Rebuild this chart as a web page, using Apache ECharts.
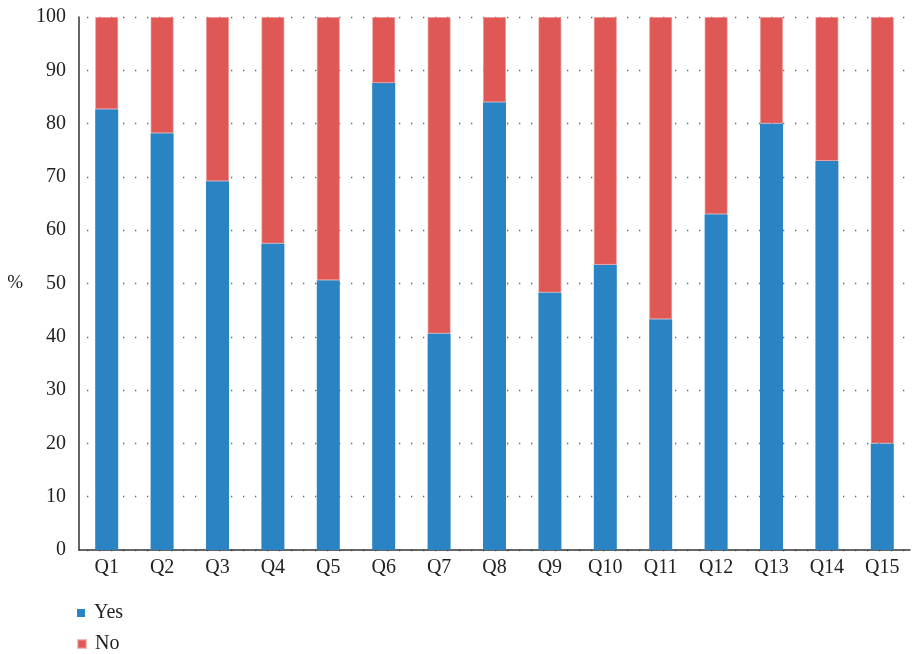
<!DOCTYPE html>
<html>
<head>
<meta charset="utf-8">
<script src="https://cdn.jsdelivr.net/npm/echarts@6/dist/echarts.min.js"></script>
<style>
  html, body { margin: 0; padding: 0; background: #fff; }
  #chart { width: 918px; height: 654px; }
</style>
</head>
<body>
<div id="chart"></div>
<script>
// Share of "Yes" answers per question (percent); "No" is the remainder.
const questions = ['Q1', 'Q2', 'Q3', 'Q4', 'Q5', 'Q6', 'Q7', 'Q8', 'Q9', 'Q10', 'Q11', 'Q12', 'Q13', 'Q14', 'Q15'];
const yesValues = [82.7, 78.2, 69.2, 57.5, 50.6, 87.6, 40.6, 84.0, 48.3, 53.5, 43.3, 63.0, 80.0, 73.0, 20.0];
const noValues = [17.3, 21.8, 30.8, 42.5, 49.4, 12.4, 59.4, 16.0, 51.7, 46.5, 56.7, 37.0, 20.0, 27.0, 80.0];

const serif = '"Liberation Serif", "DejaVu Serif", serif';
const textColor = '#222';

// One legend entry per row, stacked under the x axis
function legendRow(name, top) {
  return {
    left: 77,
    top: top,
    padding: 0,
    itemWidth: 8,
    itemHeight: 8,
    icon: 'rect',
    textStyle: { fontFamily: serif, fontSize: 20, color: textColor, padding: [0, 0, 0, 4] },
    data: [name]
  };
}

const chart = echarts.init(document.getElementById('chart'));
chart.setOption({
  animation: false,
  textStyle: { fontFamily: serif },
  grid: { left: 79, right: 8, top: 17, bottom: 104, containLabel: false },
  legend: [legendRow('Yes', 603), legendRow('No', 634)],
  xAxis: {
    type: 'category',
    data: questions,
    axisLine: { lineStyle: { color: '#333', width: 1.5 } },
    axisTick: { show: false },
    axisLabel: { fontFamily: serif, fontSize: 20, color: textColor, margin: 8 },
    splitLine: { show: false }
  },
  yAxis: {
    type: 'value',
    name: '%',
    nameLocation: 'middle',
    nameRotate: 0,
    nameGap: 56,
    nameTextStyle: { fontFamily: serif, fontSize: 19, color: textColor },
    min: 0,
    max: 100,
    interval: 10,
    axisLine: { show: true, lineStyle: { color: '#333', width: 1.5 } },
    axisTick: { show: false },
    axisLabel: { fontFamily: serif, fontSize: 20, color: textColor, margin: 13 },
    splitLine: {
      show: true,
      lineStyle: { color: '#666', width: 1.3, type: [1.3, 10.7], dashOffset: -8 }
    }
  },
  series: [
    {
      name: 'Yes',
      type: 'bar',
      stack: 'answers',
      barWidth: 23,
      data: yesValues,
      itemStyle: { color: '#2a83c3' }
    },
    {
      name: 'No',
      type: 'bar',
      stack: 'answers',
      barWidth: 23,
      data: noValues,
      itemStyle: { color: '#df5855', borderColor: 'rgba(235,140,138,0.6)', borderWidth: 1 }
    }
  ]
});
</script>
</body>
</html>
